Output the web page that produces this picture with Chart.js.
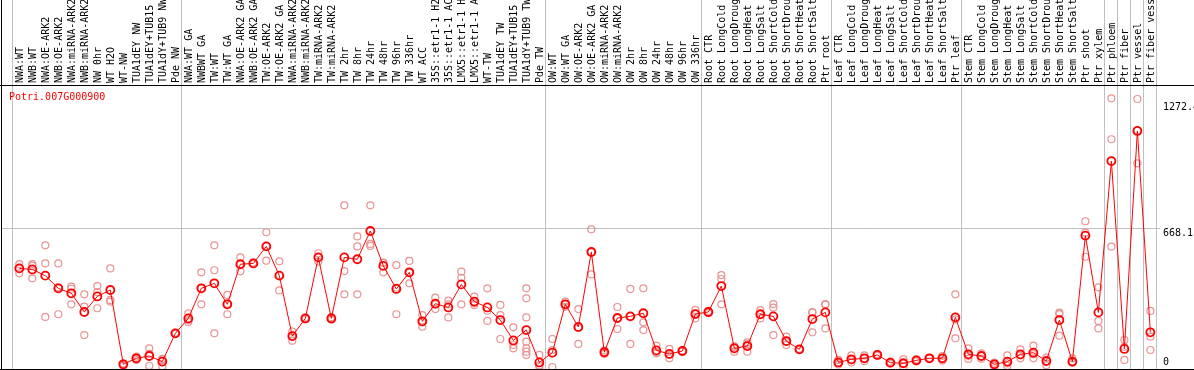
<!DOCTYPE html>
<html>
<head>
<meta charset="utf-8">
<script src="https://cdn.jsdelivr.net/npm/chart.js@4"></script>
<style>
  html,body{margin:0;padding:0;background:#fff;}
  #wrap{position:relative;width:1194px;height:370px;}
  #gene{position:absolute;left:9px;top:91px;font:10px 'DejaVu Sans Mono',monospace;line-height:12px;color:#ff0000;}
</style>
</head>
<body>
<div id="wrap">
  <canvas id="exprChart" width="1194" height="370"></canvas>
  <div id="gene">Potri.007G000900</div>
</div>
<script>

// ======================================
// DATA
// ======================================
const samples = [
  'NWA:WT','NWB:WT','NWA:OE-ARK2','NWB:OE-ARK2','NWA:miRNA-ARK2','NWB:miRNA-ARK2',
  'NW 0hr','WT H2O','WT-NW','TUA1dEY NW','TUA1dEY+TUB15 NW','TUA1dY+TUB9 NW','Pde NW',
  'NWA:WT GA','NWBWT GA','TW:WT','TW:WT GA','NWA:OE-ARK2 GA','NWB:OE-ARK2 GA',
  'TW:OE-ARK2','TW:OE-ARK2 GA','NWA:miRNA-ARK2 GA','NWB:miRNA-ARK2 GA','TW:miRNA-ARK2',
  'TW:miRNA-ARK2 GA','TW 2hr','TW 8hr','TW 24hr','TW 48hr','TW 96hr','TW 336hr','WT ACC',
  '35S::etr1-1 H2O','35S::etr1-1 ACC','LMX5::etr1-1 H2O','LMX5::etr1-1 ACC','WT-TW',
  'TUA1dEY TW','TUA1dEY+TUB15 TW','TUA1dY+TUB9 TW','Pde TW',
  'OW:WT','OW:WT GA','OW:OE-ARK2','OW:OE-ARK2 GA','OW:miRNA-ARK2','OW:miRNA-ARK2 GA',
  'OW 2hr','OW 8hr','OW 24hr','OW 48hr','OW 96hr','OW 336hr',
  'Root CTR','Root LongCold','Root LongDrought','Root LongHeat','Root LongSalt',
  'Root ShortCold','Root ShortDrought','Root ShortHeat','Root ShortSalt','Ptr root',
  'Leaf CTR','Leaf LongCold','Leaf LongDrought','Leaf LongHeat','Leaf LongSalt',
  'Leaf ShortCold','Leaf ShortDrought','Leaf ShortHeat','Leaf ShortSalt','Ptr leaf',
  'Stem CTR','Stem LongCold','Stem LongDrought','Stem LongHeat','Stem LongSalt',
  'Stem ShortCold','Stem ShortDrought','Stem ShortHeat','Stem ShortSalt',
  'Ptr shoot','Ptr xylem','Ptr phloem','Ptr fiber','Ptr vessel','Ptr fiber vessel'
];

const means = [
  475,470,440,379,355,265,340,371,13,42,53,26,162,
  234,379,403,302,495,499,581,440,149,234,528,234,528,519,655,487,376,456,220,
  305,287,398,315,287,226,128,178,22,
  69,302,193,554,71,236,244,259,80,63,77,255,
  265,390,90,101,254,244,125,85,231,263,
  22,37,42,58,21,18,32,42,42,239,
  61,53,13,26,61,69,29,226,26,633,263,
  992,87,1137,167
];

const replicates = [
  [496,475,451],[496,488,427],[586,499,241],[499,384,254],[387,377,302],
  [350,291,154],[390,361,283],[475,323,315],[8,14,17],[50,42,34],
  [90,63,6],[39,37,2],[165,160,161],
  [259,226,217],[456,379,302],[586,466,162],[347,305,254],[528,496,461],
  [503,499,495],[649,582,512],[509,442,369],[171,149,127],[238,234,230],
  [548,528,508],[240,234,228],[779,462,350],[629,581,350],[779,593,583],
  [503,502,456],[491,383,254],[511,454,403],[250,216,194],[334,303,279],
  [320,302,239],[459,430,302],[339,307,299],[379,271,222],[299,250,135],
  [191,106,90],[379,331,239,122,90,74,58],[58,8,0],
  [135,82,0],[315,302,290],[279,189,111],[663,553,446],[79,71,63],
  [289,236,183],[376,245,111],[379,215,178],[103,72,66],[87,60,42],
  [80,77,74],[275,256,234],
  [270,265,260],[443,424,302],[98,98,74],[119,110,74],[274,254,234],
  [303,286,154],[146,123,106],[88,85,82],[263,263,167],[303,300,186],
  [34,20,12],[56,33,22],[56,42,28],[62,58,54],[26,21,16],
  [37,17,0],[37,32,27],[44,42,40],[53,42,31],[350,229,138],
  [90,54,39],[66,53,40],[21,13,5],[56,17,5],[85,56,42],
  [103,62,42],[45,29,8],[262,255,151],[42,26,21],[702,647,531],[384,222,186],
  [1294,1097,580],[130,97,34],[1291,1139,981],[270,146,82]
];

// sample index where a new tissue group starts
const groupBreaks = [0,13,41,53,63,73,84,85,86,87,88];

const yTicks = [668.1, 1272.4];
const yZeroTick = [0];

// ======================================
// POINTS
// ======================================
const meanPoints = means.map((v,i)=>({x:i, y:v}));

const repPoints = [];
replicates.forEach((reps,i)=>{
  reps.forEach(v=>repPoints.push({x:i, y:v}));
});

const GRID = '#c0c0c0';
const NONE = 'rgba(0,0,0,0)';
const FONT = {family:'DejaVu Sans Mono', size:10};

function noPad(scale){
  scale.paddingTop = 0;
  scale.paddingBottom = 0;
  scale.paddingLeft = 0;
  scale.paddingRight = 0;
}

function breakColor(c){
  if(c.type !== 'tick') return GRID;   // closing line after the last sample
  return groupBreaks.includes(c.index) ? GRID : NONE;
}

// black frame lines
const frame = {
  id:'frame',
  afterDraw(chart){
    const c = chart.ctx;
    c.save();
    c.strokeStyle = '#000';
    c.lineWidth = 1;
    c.beginPath();
    c.moveTo(0,85.5);  c.lineTo(1194,85.5);
    c.moveTo(1.5,0);   c.lineTo(1.5,370);
    c.moveTo(0,369.5); c.lineTo(1194,369.5);
    c.stroke();
    c.restore();
  }
};

// ======================================
// CHART
// ======================================
const ctx = document.getElementById('exprChart');

new Chart(ctx, {

  type:'line',

  data:{
    datasets:[
      {
        label:'mean',
        data:meanPoints,
        borderColor:'#ff0000',
        borderWidth:1,
        tension:0,
        pointRadius:4,
        pointBorderWidth:1.8,
        pointBorderColor:'#ff0000',
        pointBackgroundColor:NONE,
        order:0
      },
      {
        label:'replicates',
        data:repPoints,
        showLine:false,
        pointRadius:3.5,
        pointBorderWidth:1.2,
        pointBorderColor:'#e99393',
        pointBackgroundColor:NONE,
        order:1
      }
    ]
  },

  options:{
    responsive:false,
    animation:false,
    devicePixelRatio:1,

    layout:{
      autoPadding:false,
      padding:{left:1, right:0, top:0, bottom:1}
    },

    plugins:{
      legend:{display:false},
      tooltip:{enabled:false}
    },

    scales:{

      x:{
        type:'linear',
        position:'top',
        bounds:'data',
        min:-1.408,
        max:87.74,
        afterBuildTicks(scale){
          scale.ticks = samples.map((s,i)=>({value:i}));
        },
        afterFit(scale){
          scale.height = 85;
          noPad(scale);
        },
        ticks:{
          autoSkip:false,
          minRotation:90,
          maxRotation:90,
          padding:-83,
          labelOffset:13,
          color:'#000',
          font:FONT,
          callback:(v)=>samples[v]
        },
        grid:{
          offset:true,
          drawTicks:true,
          tickLength:85,
          lineWidth:1,
          color:breakColor,
          tickColor:breakColor
        },
        border:{display:false}
      },

      y:{
        type:'linear',
        position:'right',
        weight:1,
        bounds:'data',
        min:-9.63,
        max:1358.4,
        afterBuildTicks(scale){
          scale.ticks = yTicks.map(v=>({value:v}));
        },
        afterFit(scale){
          scale.width = 34;
          noPad(scale);
        },
        ticks:{
          align:'start',
          padding:3,
          color:'#000',
          font:FONT,
          callback:(v)=>String(v)
        },
        grid:{
          drawTicks:false,
          lineWidth:1,
          color:(c)=> (c.tick && c.tick.value === 668.1) ? GRID : NONE
        },
        border:{display:false}
      },

      // zero label sits above its value so it stays inside the frame
      y2:{
        type:'linear',
        position:'right',
        weight:0,
        bounds:'data',
        min:-9.63,
        max:1358.4,
        afterBuildTicks(scale){
          scale.ticks = yZeroTick.map(v=>({value:v}));
        },
        afterFit(scale){
          scale.width = 0;
          noPad(scale);
        },
        ticks:{
          mirror:true,
          align:'end',
          padding:9,
          color:'#000',
          font:FONT,
          callback:(v)=>String(v)
        },
        grid:{display:false},
        border:{display:false}
      }
    }
  },

  plugins:[frame]
});

</script>
</body>
</html>
